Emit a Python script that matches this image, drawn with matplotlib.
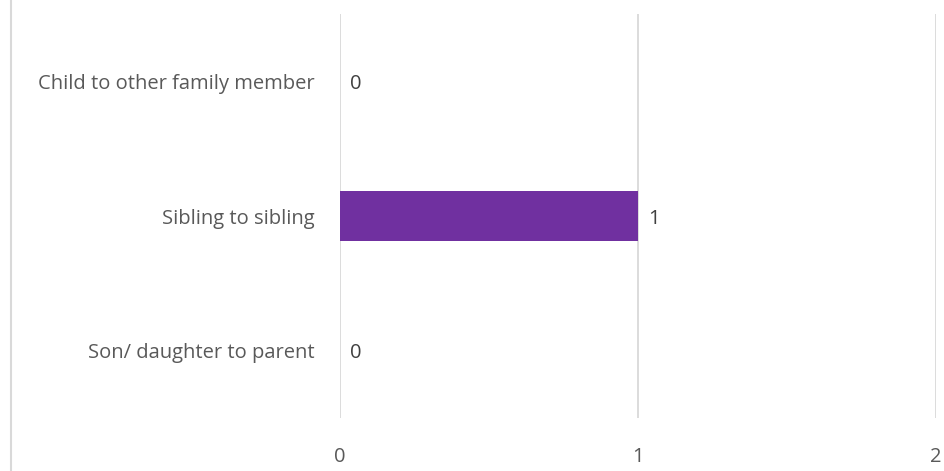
import matplotlib
matplotlib.use("Agg")
import matplotlib.pyplot as plt
from matplotlib.lines import Line2D

# relationship categories, drawn bottom to top
categories = ["Son/ daughter to parent", "Sibling to sibling", "Child to other family member"]
counts = [0, 1, 0]
x_ticks = [0, 1, 2]

plt.rcParams["font.family"] = ["Open Sans", "DejaVu Sans"]
text_color = "#595959"
grid_color = "#d9d9d9"
fsize = 14.5

fig = plt.figure(figsize=(9.44, 4.71), dpi=100)
ax = fig.add_axes([340 / 944, 1 - 418 / 471, (936 - 340) / 944, (418 - 14) / 471])

ypos = range(len(categories))
ax.barh(ypos, counts, height=0.37, color="#7030a0", zorder=3)

# value labels next to each bar
for y, v in zip(ypos, counts):
    ax.text(v + 0.035, y, str(v), va="center_baseline", ha="left",
            fontsize=fsize, color="#404040")

ax.set_xlim(0, 2)
ax.set_ylim(-0.5, len(categories) - 0.5)
ax.set_xticks(x_ticks)
ax.set_xticklabels([str(t) for t in x_ticks])
ax.set_yticks(list(ypos))
ax.set_yticklabels(categories)
ax.tick_params(axis="both", length=0, labelsize=fsize, colors=text_color)
ax.tick_params(axis="x", pad=21)
ax.tick_params(axis="y", pad=18)
for lbl in ax.get_yticklabels():
    lbl.set_verticalalignment("center_baseline")

ax.grid(axis="x", color=grid_color, linewidth=1.3, zorder=0)
for s in ax.spines.values():
    s.set_visible(False)

# chart border on the left edge
fig.add_artist(Line2D([11 / 944, 11 / 944], [0, 1], color=grid_color, linewidth=1.5,
                      transform=fig.transFigure))

fig.savefig("out.png", dpi=100)
